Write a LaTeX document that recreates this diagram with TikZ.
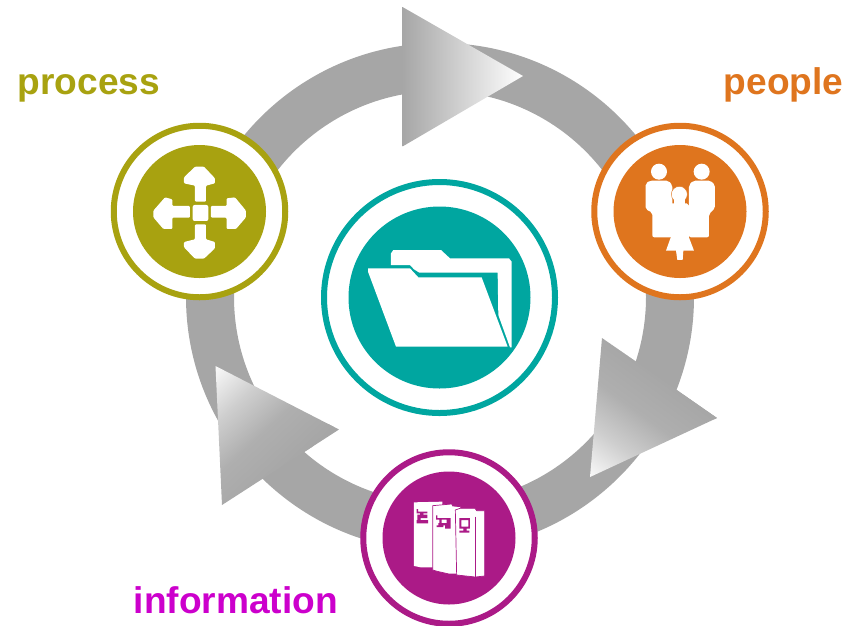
\documentclass[tikz,border=0pt]{standalone}
\usepackage{fontspec}
\setmainfont{Liberation Sans}
\definecolor{ringgray}{HTML}{A6A6A6}
\definecolor{olivec}{HTML}{A8A210}
\definecolor{orangec}{HTML}{DF751E}
\definecolor{purplec}{HTML}{AB1A87}
\definecolor{tealc}{HTML}{00A6A0}
\definecolor{infotext}{HTML}{CC00CC}
\pgfdeclarehorizontalshading{softfade}{100bp}{color(0bp)=(white); color(25bp)=(white); color(43bp)=(ringgray!55!white); color(58bp)=(ringgray!90!white); color(75bp)=(ringgray); color(100bp)=(ringgray)}
\begin{document}
\begin{tikzpicture}[x=1pt,y=-1pt,
  ringouter/.style={circle,draw=#1,line width=6pt,fill=white,inner sep=0pt,minimum size=171.5pt},
  disc/.style={circle,fill=#1,inner sep=0pt,minimum size=133pt},
  lbl/.style={anchor=base west,inner sep=0pt,font=\bfseries\fontsize{37.1}{40}\selectfont},
  icon/.style={fill=white,line join=round},
  zoomed/.style={shift={(#1)},x=0.3333pt,y=-0.3333pt}]
\useasboundingbox (0,0) rectangle (849,625);
% cycle ring
\fill[ringgray,even odd rule] (440,297) circle[radius=254pt] (440,297) circle[radius=206pt];
% arrowheads
\begin{scope}
\clip (402.5,7) -- (523,76) -- (402.5,146.5) -- cycle;
\shade[left color=ringgray,right color=white] (402,0) rectangle (524,150);
\end{scope}
\begin{scope}
\clip (602,338) -- (717,418) -- (590,477) -- cycle;
\begin{scope}[transform canvas={shift={(590,477)},rotate=54}]
\fill[ringgray] (120,-300) rectangle (400,300);
\shade[shading=softfade] (-5,-300) rectangle (125,300);
\end{scope}
\end{scope}
\begin{scope}
\clip (215.5,366) -- (339,429.5) -- (222,505) -- cycle;
\begin{scope}[transform canvas={shift={(215.5,366)},rotate=-47}]
\fill[ringgray] (120,-300) rectangle (400,300);
\shade[shading=softfade] (-5,-300) rectangle (125,300);
\end{scope}
\end{scope}
% process
\node[ringouter=olivec] (procring) at (199.5,211.5) {};
\node[disc=olivec] (procdisc) at (199.5,211.5) {};
\begin{scope}[zoomed={110,120}]
\fill[icon,rounded corners=1pt] (255,140)--(282,140)--(315,175)--(315,190)--(288,197)--(288,245)--(255,245)--(255,197)--(222,190)--(222,172)--cycle;
\fill[icon,rounded corners=1pt] (130,272)--(165,232)--(187,238)--(187,258)--(240,258)--(240,293)--(187,293)--(187,327)--(160,327)--(130,292)--cycle;
\fill[icon,rounded corners=1pt] (408,272)--(408,292)--(378,327)--(350,327)--(350,293)--(303,293)--(303,258)--(350,258)--(350,235)--(375,232)--cycle;
\fill[icon,rounded corners=1pt] (255,313)--(288,313)--(288,358)--(315,366)--(315,385)--(282,416)--(255,416)--(222,382)--(222,366)--(255,358)--cycle;
\fill[icon,rounded corners=2pt] (248,255) rectangle (295,303);
\end{scope}
% people
\node[ringouter=orangec] (peopring) at (680,211.5) {};
\node[disc=orangec] (peopdisc) at (680,211.5) {};
\begin{scope}[zoomed={590,120}]
\fill[icon] (207,155) circle[radius=8pt];
\fill[icon] (335,155) circle[radius=8pt];
\fill[icon,rounded corners=2pt] (167,190)--(180,182)--(235,182)--(247,195)--(247,352)--(187,352)--(187,278)--(167,268)--cycle;
\fill[icon,rounded corners=2pt] (297,195)--(310,182)--(362,182)--(375,195)--(375,265)--(357,282)--(357,352)--(297,352)--cycle;
\fill[icon] (232,265)--(247,250)--(290,250)--(305,265)--(305,340)--(296,350)--(312,392)--(280,392)--(278,420)--(262,420)--(258,392)--(228,392)--(243,350)--(232,330)--cycle;
\fill[icon,draw=orangec,line width=0.4pt] (268,223) circle[radius=8pt];
\fill[icon] (252,236) rectangle (285,262);
\end{scope}
% information
\node[ringouter=purplec] (inforing) at (449,538) {};
\node[disc=purplec] (infodisc) at (449,538) {};
\begin{scope}[zoomed={360,450}]
\fill[icon] (162,157)--(247,155)--(247,352)--(182,352)--(162,348)--cycle;
\fill[icon,draw=purplec,line width=0.7pt] (218,167)--(275,162)--(278,168)--(302,170)--(302,372)--(267,372)--(232,364)--(218,360)--cycle;
\fill[icon,draw=purplec,line width=0.7pt] (286,180)--(300,175)--(345,175)--(350,182)--(374,182)--(374,378)--(346,381)--(290,375)--cycle;
\draw[purplec,line width=0.7pt] (346,200)--(346,381);
\end{scope}
\begin{scope}[zoomed={410,498}]
\fill[purplec] (20,33) rectangle (24,44) (20,41) rectangle (52,46) (30,46) rectangle (40,50) (22,50) rectangle (52,60) (22,60) rectangle (32,66) (20,66) rectangle (54,76);
\fill[purplec] (78,52) rectangle (82,63) (78,60) rectangle (122,65) (88,65) rectangle (95,78) (110,65) rectangle (122,78) (85,75) rectangle (122,82) (80,82) rectangle (100,87) (105,82) rectangle (122,92);
\fill[purplec] (148,60) rectangle (180,66) (148,66) rectangle (154,86) (175,66) rectangle (180,86) (148,86) rectangle (180,92) (160,92) rectangle (170,100) (148,98) rectangle (178,104);
\end{scope}
% centre
\node[circle,draw=tealc,line width=6pt,fill=white,inner sep=0pt,minimum size=231pt] (centring) at (439.5,297.5) {};
\node[circle,fill=tealc,inner sep=0pt,minimum size=182pt] (centdisc) at (439.5,297.5) {};
\begin{scope}[zoomed={340,230}]
\fill[icon] (153,105)--(153,70)--(160,60)--(303,60)--(330,85)--(507,85)--(515,95)--(515,352)--(510,352)--(475,255)--(473,128)--(238,128)--(222,118)--(210,105)--cycle;
\fill[icon] (84,115)--(210,115)--(235,142)--(425,142)--(503,350)--(168,350)--(84,125)--cycle;
\end{scope}
% labels
\node[lbl,text=olivec] (lprocess) at (17.5,94.5) {process};
\node[lbl,text=orangec] (lpeople) at (723.5,94.5) {people};
\node[lbl,text=infotext] (linfo) at (133.5,613) {information};
\end{tikzpicture}
\end{document}
